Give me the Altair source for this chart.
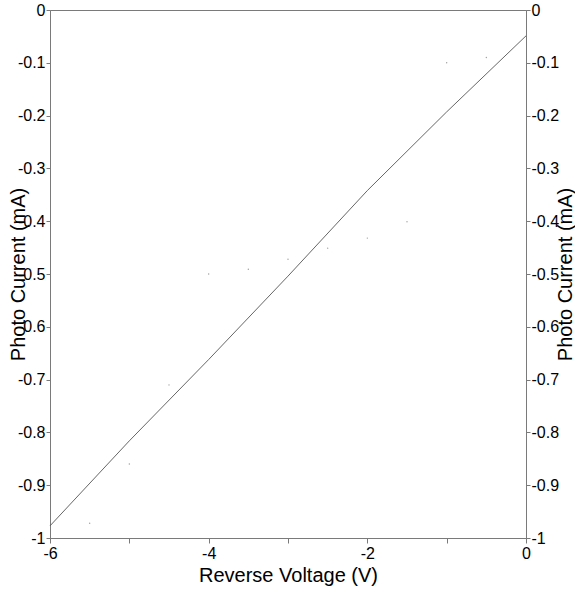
import altair as alt
import pandas as pd

# Fitted curve
line_v = [-6, -5, -4, -3, -2, -1, 0]
line_i = [-0.977, -0.816, -0.662, -0.504, -0.342, -0.193, -0.049]

# Measured points (tiny dots)
pt_v = [-5.5, -5.0, -4.5, -4.0, -3.5, -3.0, -2.5, -2.0, -1.5, -1.0, -0.5]
pt_i = [-0.972, -0.860, -0.710, -0.500, -0.491, -0.472, -0.451, -0.432, -0.401, -0.100, -0.090]

x_ticks = [-6, -5, -4, -3, -2, -1, 0]
y_ticks = [0, -0.1, -0.2, -0.3, -0.4, -0.5, -0.6, -0.7, -0.8, -0.9, -1]

line_df = pd.DataFrame({"V": line_v, "I": line_i})
pt_df = pd.DataFrame({"V": pt_v, "I": pt_i})

FONT = "Liberation Sans"
GRAY = "#7a7a7a"

xscale = alt.Scale(domain=[-6, 0], nice=False, zero=False)
yscale = alt.Scale(domain=[-1, 0], nice=False, zero=False)

x_label = ("abs(datum.value % 2) > 0.5 ? '' : "
           "(datum.value == 0 ? '0' : '-' + abs(datum.value))")
y_label = ("abs(datum.value) < 0.01 ? '0' : "
           "(abs(datum.value + 1) < 0.01 ? '-1' : '-0.' + round(-datum.value * 10))")

x_enc = alt.X(
    "V:Q", scale=xscale,
    axis=alt.Axis(
        title="Reverse Voltage (V)", values=x_ticks, labelExpr=x_label,
        grid=False, tickSize=5, labelPadding=2, labelFontSize=16,
        titleFontSize=20, titleFontWeight="normal", titleBaseline="alphabetic",
        titleY=43, labelFlush=False,
        domainColor=GRAY, tickColor=GRAY, labelColor="black", titleColor="black",
    ),
)

common = dict(
    title="Photo Current (mA)", values=y_ticks, labelExpr=y_label,
    grid=False, tickSize=4, labelPadding=1, labelFontSize=16,
    titleFontSize=20, titleFontWeight="normal", titleAngle=270,
    titleBaseline="middle", titleY=264, labelFlush=False,
    domainColor=GRAY, tickColor=GRAY, labelColor="black", titleColor="black",
)
left_axis = alt.Axis(orient="left", titleX=-32, **common)
right_axis = alt.Axis(orient="right", titleX=39, **common)

line = alt.Chart(line_df).mark_line(color="#555555", strokeWidth=0.9).encode(
    x=x_enc,
    y=alt.Y("I:Q", scale=yscale, axis=left_axis),
)
pts = alt.Chart(pt_df).mark_point(filled=True, size=2, color="#888888", opacity=0.8).encode(
    x=alt.X("V:Q", scale=xscale),
    y=alt.Y("I:Q", scale=yscale, axis=right_axis),
)

chart = (
    alt.layer(line, pts)
    .resolve_scale(y="independent")
    .properties(
        width=476, height=528,
        autosize=alt.AutoSizeParams(type="none"),
        padding={"left": 50, "top": 10, "right": 49, "bottom": 56},
        background="white",
    )
    .configure_view(stroke=GRAY, strokeWidth=1)
    .configure_axis(labelFont=FONT, titleFont=FONT)
)

chart.save("out.html", embed_options={"renderer": "svg", "actions": False})
